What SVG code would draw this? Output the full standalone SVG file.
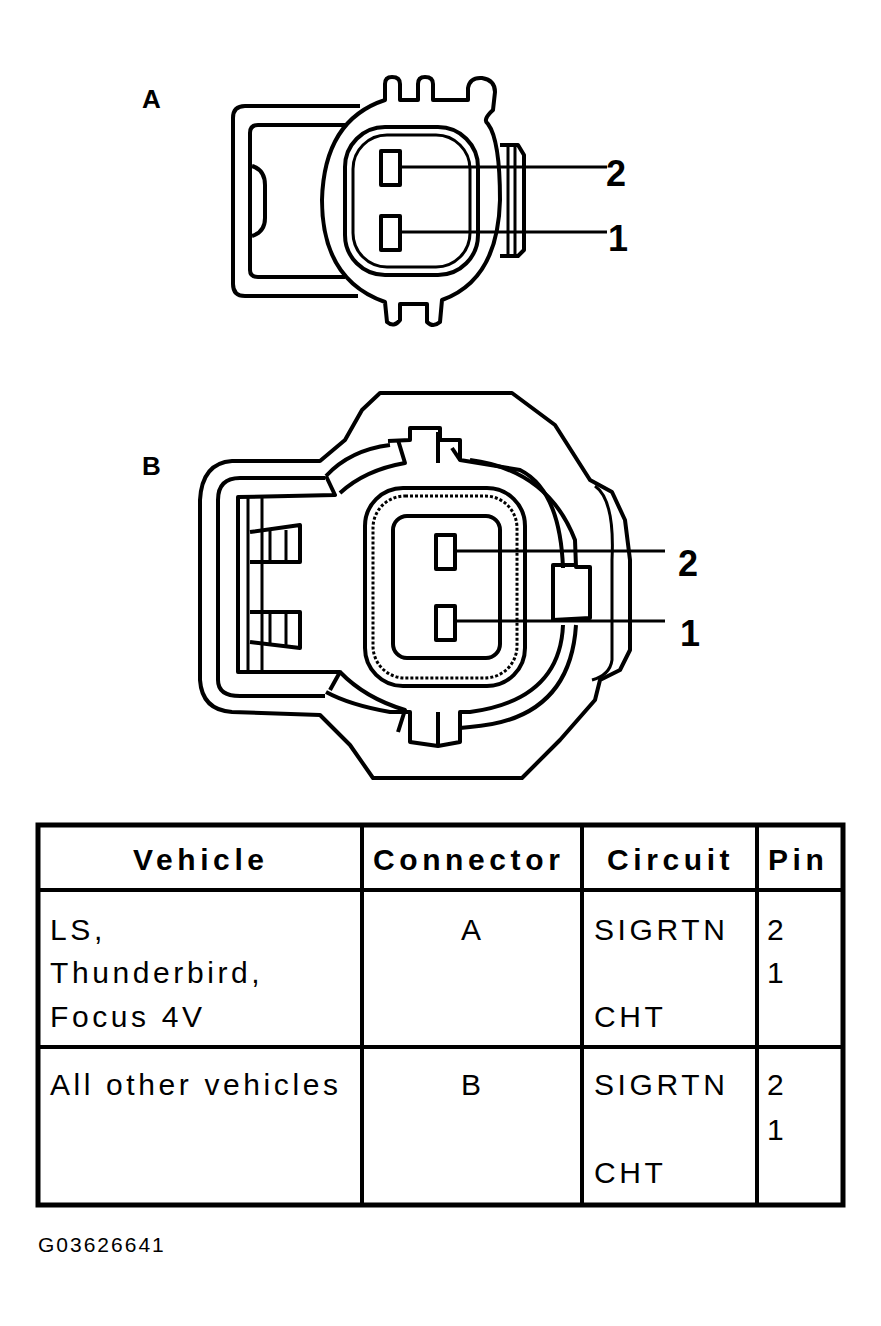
<svg xmlns="http://www.w3.org/2000/svg" width="881" height="1326" viewBox="0 0 881 1326">
<style>
.l{fill:none;stroke:#000;stroke-width:4;stroke-linejoin:round}
.t{stroke-width:3}
.b{font-family:"Liberation Sans",Arial,sans-serif;font-weight:bold;fill:#000}
.r{font-family:"Liberation Sans",Arial,sans-serif;fill:#000;font-size:30px;letter-spacing:3.6px}
.h{letter-spacing:4.6px}
</style>
<rect width="881" height="1326" fill="#fff"/>
<g id="connA">
<text class="b" x="142" y="108" font-size="26">A</text>
<path class="l" d="M360,106 L245,106 Q233,106 233,118 L233,284 Q233,296 245,296 L358,296"/>
<path class="l" d="M345,125 L258,125 Q250,125 250,133 L250,270 Q250,277 258,277 L345,277"/>
<path class="l" d="M252,166 Q265,170 265,185 L265,218 Q265,232 252,236"/>
<path class="l" d="M385,100 L385,84 Q385,77 392,77 Q400,77 400,84 L400,100 L418,100 L418,84 Q418,77 425,77 Q433,77 433,84 L433,100 L468,100 L468,88 Q470,77 482,78 Q495,80 495,92 L493,110 Q482,120 488,124 Q500,140 500,200 Q498,280 442,300 L440,322 Q433,328 427,322 L427,304 L400,304 L400,320 Q394,328 387,322 L385,302 Q322,280 322,200 Q324,120 385,100 Z"/>
<rect class="l" x="345" y="127" width="133" height="148" rx="40"/>
<rect class="l t" x="353" y="135" width="117" height="132" rx="34"/>
<rect class="l" x="381" y="151" width="19" height="34"/>
<rect class="l" x="381" y="216" width="19" height="34"/>
<line class="l t" x1="400" y1="167" x2="607" y2="167"/>
<line class="l t" x1="400" y1="232" x2="607" y2="232"/>
<path class="l" d="M500,145 L518,145 L524,155 L524,250 L518,256 L500,256"/>
<line class="l t" x1="508" y1="146" x2="508" y2="255"/>
<line class="l t" x1="515" y1="146" x2="515" y2="255"/>
<text class="b" x="606" y="186" font-size="36">2</text>
<text class="b" x="608" y="251" font-size="36">1</text>
</g>
<g id="connB">
<text class="b" x="142" y="475" font-size="26">B</text>
<path class="l" d="M380,393 L512,393 L555,425 L590,480 L612,492 L625,520 L630,560 L630,650 L620,670 L600,680 L595,700 L560,740 L522,778 L373,778 L350,745 L320,715 L232,712 Q202,710 200,680 L200,500 Q202,463 232,461 L320,461 L345,440 L362,410 Z"/>
<path class="l" d="M325,478 L240,478 Q218,478 218,500 L218,680 Q218,696 240,696 L325,696"/>
<path class="l t" d="M595,486 Q615,500 612,560 L612,660 Q610,675 592,680"/>
<path class="l" d="M326,476 L335,495 L238,497 L238,672 L340,672 L330,690"/>
<path class="l" d="M388,441 L410,440 L410,428 L440,428 L440,440 L460,440 L460,460 L520,470 Q560,490 563,568"/>
<path class="l" d="M326,476 Q350,450 390,445"/>
<path class="l" d="M340,493 Q365,470 405,463 L398,440"/>
<path class="l" d="M438,463 L438,432"/>
<path class="l" d="M460,460 L452,448"/>
<path class="l" d="M470,460 Q548,470 575,540 L576,567 L590,567 L590,618 L553,620 L553,565 L575,565"/>
<path class="l" d="M563,625 Q560,700 470,712 L460,712 L460,742 L438,746 L410,742 L410,712 L390,712 Q350,705 326,692"/>
<path class="l" d="M576,625 Q570,720 470,727 L460,728"/>
<path class="l" d="M340,672 Q365,698 405,710 L398,732"/>
<path class="l" d="M438,712 L438,745"/>
<path class="l t" d="M248,498 L248,670 M262,498 L262,670"/>
<path class="l" d="M250,532 L300,525 L300,562 L250,562 M250,612 L300,612 L300,648 L250,642"/>
<path class="l t" d="M270,530 L270,560 M286,530 L286,560 M270,614 L270,645 M286,614 L286,645"/>
<rect class="l" x="365" y="488" width="160" height="198" rx="38"/>
<rect class="l t" x="373" y="496" width="144" height="182" rx="32" stroke-dasharray="3 2"/>
<rect class="l" x="393" y="516" width="107" height="142" rx="14"/>
<rect class="l" x="436" y="535" width="19" height="34"/>
<rect class="l" x="436" y="606" width="19" height="34"/>
<line class="l t" x1="455" y1="551" x2="665" y2="551"/>
<line class="l t" x1="455" y1="621" x2="665" y2="621"/>
<text class="b" x="678" y="576" font-size="36">2</text>
<text class="b" x="680" y="646" font-size="36">1</text>
</g>
<g id="table">
<rect x="38" y="825" width="805" height="380" fill="none" stroke="#000" stroke-width="5"/>
<g stroke="#000" stroke-width="4">
<line x1="38" y1="890" x2="843" y2="890"/>
<line x1="38" y1="1047" x2="843" y2="1047"/>
<line x1="362" y1="825" x2="362" y2="1205"/>
<line x1="582" y1="825" x2="582" y2="1205"/>
<line x1="757" y1="825" x2="757" y2="1205"/>
</g>
<g class="b h" font-size="30">
<text x="133" y="870">Vehicle</text>
<text x="373" y="870">Connector</text>
<text x="607" y="870">Circuit</text>
<text x="768" y="870">Pin</text>
</g>
<text class="r" x="50" y="940">LS,</text>
<text class="r" x="50" y="983">Thunderbird,</text>
<text class="r" x="50" y="1027">Focus 4V</text>
<text class="r" x="461" y="940">A</text>
<text class="r" x="594" y="940">SIGRTN</text>
<text class="r" x="594" y="1027">CHT</text>
<text class="r" x="767" y="940">2</text>
<text class="r" x="767" y="983">1</text>
<text class="r" x="50" y="1095">All other vehicles</text>
<text class="r" x="461" y="1095">B</text>
<text class="r" x="594" y="1095">SIGRTN</text>
<text class="r" x="594" y="1183">CHT</text>
<text class="r" x="767" y="1095">2</text>
<text class="r" x="767" y="1140">1</text>
</g>
<text x="38" y="1252" font-family="Liberation Sans,Arial,sans-serif" font-size="21" letter-spacing="2">G03626641</text>
</svg>
